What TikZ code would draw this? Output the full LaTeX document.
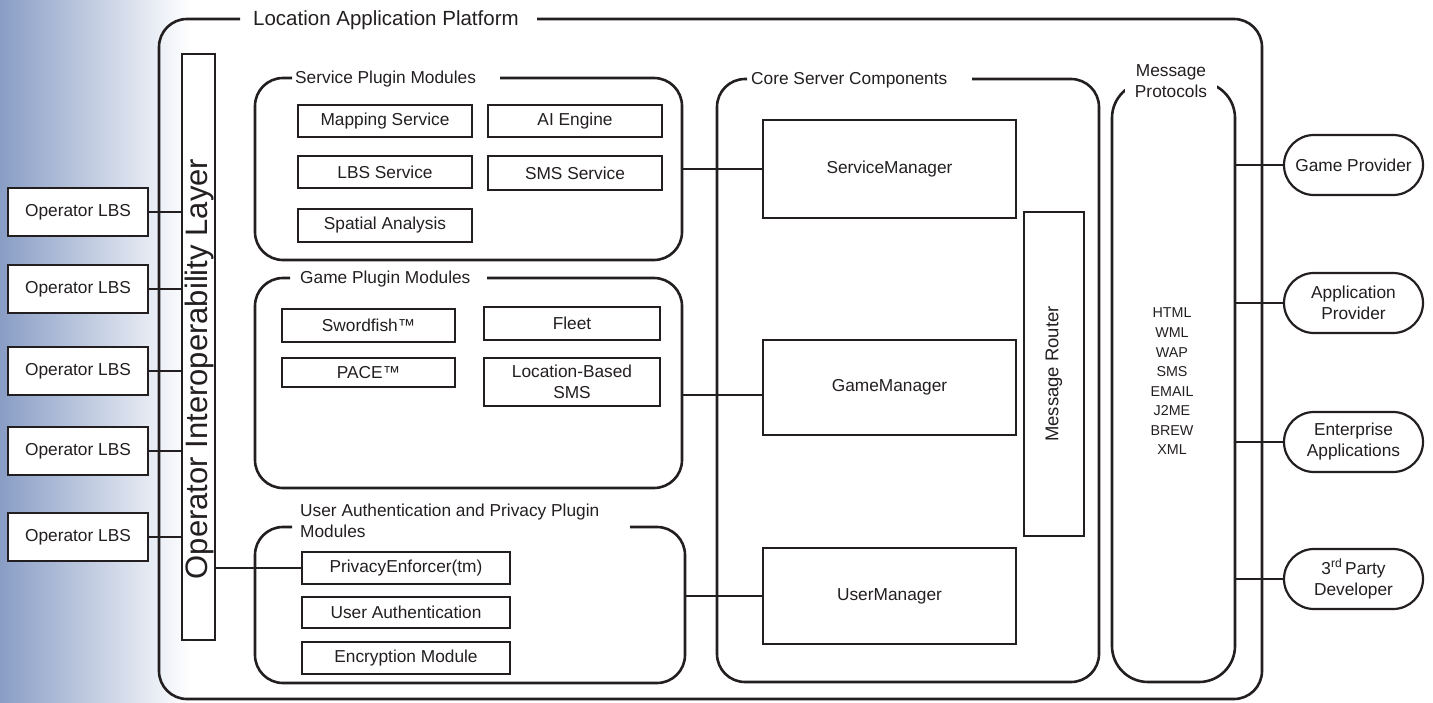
\documentclass[tikz,border=0pt]{standalone}
\usepackage{fontspec}
\setmainfont{Liberation Sans}
\usetikzlibrary{calc}
\definecolor{ink}{HTML}{231F20}
\definecolor{bgblue}{RGB}{137,157,197}
\begin{document}
\begin{tikzpicture}[x=1pt,y=-1pt,
  every node/.style={text=ink, font=\fontsize{17.3}{21}\selectfont},
  box/.style={draw=ink, line width=2.2pt, fill=white, inner sep=0pt, align=center},
  pill/.style={draw=ink, line width=2.2pt, fill=white, inner sep=0pt, align=center,
    minimum width=139, minimum height=60, rounded corners=30pt},
  ghost/.style={draw=none, inner sep=0pt},
  grp/.style={draw=ink, line width=2.6pt, rounded corners=28pt},
  wire/.style={draw=ink, line width=2.2pt},
  ttl/.style={anchor=west, inner sep=0pt}
]
\useasboundingbox (0,0) rectangle (1433,702);
\shade[left color=bgblue, right color=white] (0,0) rectangle (190,702);

% group outlines
\draw[grp] (537,19) -- (1262,19) -- (1262,699) -- (159,699) -- (159,19) -- (240,19);
\draw[grp] (500,78) -- (682,78) -- (682,260) -- (255,260) -- (255,78) -- (292,78);
\draw[grp] (487,278) -- (682,278) -- (682,488) -- (255,488) -- (255,278) -- (290,278);
\draw[grp] (630,527) -- (685,527) -- (685,683) -- (255,683) -- (255,527) -- (292,527);
\draw[grp] (972,79) -- (1099,79) -- (1099,682) -- (717,682) -- (717,79) -- (747,79);
\draw[grp, rounded corners=36pt] (1112,82) rectangle (1235,682);

% group anchor nodes
\node[ghost, minimum width=1103, minimum height=680] (lap) at (710.5,359) {};
\node[ghost, minimum width=427, minimum height=182] (spm) at (468.5,169) {};
\node[ghost, minimum width=427, minimum height=210] (gpm) at (468.5,383) {};
\node[ghost, minimum width=430, minimum height=156] (uap) at (470,605) {};
\node[ghost, minimum width=382, minimum height=603] (csc) at (908,380.5) {};
\node[ghost, minimum width=123, minimum height=600] (mp) at (1173.5,382) {};

% titles
\node[ttl, font=\fontsize{20.5}{24}\selectfont] (tlap) at (253,20) {Location Application Platform};
\node[ttl] (tspm) at (295,79) {Service Plugin Modules};
\node[ttl] (tgpm) at (300,279) {Game Plugin Modules};
\node[ttl, align=left] (tuap) at (300,520.5) {User Authentication and Privacy Plugin\\Modules};
\node[ttl] (tcsc) at (751,80) {Core Server Components};
\node[fill=white, inner xsep=10pt, inner ysep=2pt, align=center] (tmp) at (1171,81) {Message\\Protocols};

% operator interoperability layer
\node[box, minimum width=33, minimum height=586] (oil) at (198.5,347) {};
\node[rotate=90, font=\fontsize{31}{36}\selectfont] (toil) at (199,369) {Operator Interoperability Layer};

% operator LBS
\foreach \i/\yy in {1/212,2/289,3/371,4/451,5/537}{
  \node[box, minimum width=140, minimum height=48] (lbs\i) at (78,\yy) {Operator LBS};
  \draw[wire] (lbs\i.east) -- (lbs\i.east -| oil.west);
}

% service plugins
\node[box, minimum width=174, minimum height=32] (map) at (385,121) {Mapping Service};
\node[box, minimum width=174, minimum height=32] (ai) at (575,121) {AI Engine};
\node[box, minimum width=174, minimum height=32] (lbss) at (385,172) {LBS Service};
\node[box, minimum width=174, minimum height=34] (smss) at (575,173) {SMS Service};
\node[box, minimum width=174, minimum height=33] (spa) at (385,225.5) {Spatial Analysis};

% game plugins
\node[box, minimum width=173, minimum height=33] (sword) at (368.5,325.5) {Swordfish™};
\node[box, minimum width=176, minimum height=33] (fleet) at (572,323.5) {Fleet};
\node[box, minimum width=173, minimum height=29] (pace) at (368.5,372.5) {PACE™};
\node[box, minimum width=176, minimum height=48] (lbsms) at (572,382) {Location-Based\\SMS};

% user auth plugins
\node[box, minimum width=208, minimum height=32] (pe) at (406,568) {PrivacyEnforcer(tm)};
\node[box, minimum width=208, minimum height=31] (ua) at (406,612.5) {User Authentication};
\node[box, minimum width=208, minimum height=32] (enc) at (406,658) {Encryption Module};

% core server components
\node[box, minimum width=253, minimum height=98] (sm) at (889.5,169) {ServiceManager};
\node[box, minimum width=253, minimum height=95] (gm) at (889.5,387.5) {GameManager};
\node[box, minimum width=253, minimum height=96] (um) at (889.5,596) {UserManager};
\node[box, minimum width=60, minimum height=324] (mr) at (1054,374) {};
\node[rotate=90, font=\fontsize{18.5}{22}\selectfont] (tmr) at (1054,374) {Message Router};

% protocols list
\node[align=center, font=\fontsize{14.3}{19.57}\selectfont] (plist) at (1172,381.5)
  {HTML\\WML\\WAP\\SMS\\EMAIL\\J2ME\\BREW\\XML};

% external parties
\node[pill] (gp) at (1353.5,165) {Game Provider};
\node[pill] (ap) at (1353.5,303) {Application\\Provider};
\node[pill] (ea) at (1353.5,442) {Enterprise\\Applications};
\node[pill] (tp) at (1353.5,579) {3\textsuperscript{rd}\,Party\\Developer};

% connectors
\draw[wire] (pe.west) -- (pe.west -| oil.east);
\draw[wire] (sm.west) -- (sm.west -| spm.east);
\coordinate (gmin) at ($(gm.west)+(0,7.5)$);
\draw[wire] (gmin) -- (gmin -| gpm.east);
\draw[wire] (um.west) -- (um.west -| uap.east);
\foreach \n in {gp,ap,ea,tp}{
  \draw[wire] (\n.west) -- (\n.west -| mp.east);
}
\end{tikzpicture}
\end{document}
